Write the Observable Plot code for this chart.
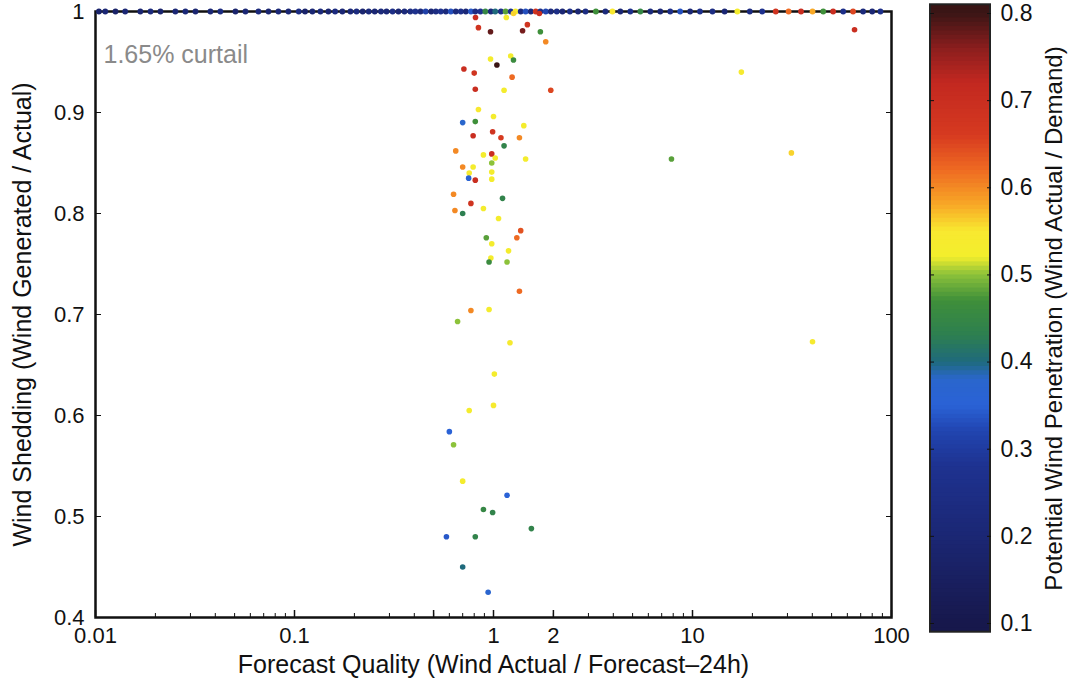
<!DOCTYPE html>
<html>
<head>
<meta charset="utf-8">
<script src="https://cdn.jsdelivr.net/npm/d3@7"></script>
<script src="https://cdn.jsdelivr.net/npm/@observablehq/plot@0.6"></script>
<style>
  html, body { margin: 0; padding: 0; background: #fff; }
  #wrap { position: relative; width: 1068px; height: 689px; }
  #wrap svg { position: absolute; top: 0; overflow: visible; }
</style>
</head>
<body>
<div id="wrap"></div>
<script>
// ---- data ----
const xTicks = [0.01, 0.1, 0.5, 1, 2, 10, 100];
const xMinor = [0.02,0.03,0.04,0.05,0.06,0.07,0.08,0.09,0.2,0.3,0.4,0.5,0.6,0.7,0.8,0.9,2,3,4,5,6,7,8,9,20,30,40,50,60,70,80,90];
const yTicks = [0.4, 0.5, 0.6, 0.7, 0.8, 0.9, 1];
const cbTicks = [0.1, 0.2, 0.3, 0.4, 0.5, 0.6, 0.7, 0.8];
const cbExtent = [0.09, 0.81];

// points sitting on the 1.0 line (no curtailment)
const bandX = [0.0104,0.0112,0.0126,0.0141,0.0168,0.0189,0.0212,0.0252,0.0283,0.0318,0.0378,0.0424,0.0505,0.0567,0.0659,0.0740,0.0830,0.0932,0.105,0.113,0.123,0.135,0.148,0.160,0.174,0.191,0.205,0.220,0.236,0.253,0.272,0.290,0.311,0.333,0.357,0.382,0.405,0.430,0.456,0.486,0.513,0.543,0.576,0.610,0.646,0.685,0.726,0.77,0.81,0.86,0.91,0.97,1.02,1.09,1.15,1.22,1.29,1.37,1.45,1.54,1.63,1.72,1.83,1.94,2.08,2.22,2.42,2.66,2.90,3.27,3.65,3.96,4.34,4.87,5.47,6.14,6.89,7.73,8.67,9.73,10.9,12.6,14.5,16.8,19.4,22.4,26.2,30.4,35.1,40.1,45.4,50.9,57.2,64.1,72.0,80.0,88.0];
const bandP = [.18,.2,.17,.2,.19,.22,.18,.2,.21,.19,.2,.23,.18,.2,.22,.19,.21,.2,.24,.18,.2,.22,.19,.23,.2,.21,.23,.19,.22,.2,.22,.21,.25,.2,.22,.24,.27,.22,.31,.2,.24,.27,.22,.33,.22,.26,.21,.34,.24,.27,.45,.22,.4,.26,.48,.27,.53,.23,.33,.22,.68,.26,.32,.22,.25,.2,.26,.2,.24,.47,.22,.55,.2,.26,.45,.22,.2,.25,.33,.2,.26,.24,.2,.53,.23,.27,.68,.62,.7,.58,.47,.7,.26,.65,.22,.2,.26];

// curtailed points
const ptX = [0.812,0.84,0.966,1.16,1.26,1.48,1.40,1.70,1.72,1.83,1.22,1.26,0.966,1.04,0.71,0.80,1.24,0.81,1.13,1.94,0.84,1.00,0.70,0.81,1.42,0.99,1.09,0.79,1.35,1.13,0.646,0.89,0.98,1.02,1.45,0.98,0.70,0.79,0.755,0.98,0.75,0.81,0.98,0.63,1.11,0.77,0.89,0.64,0.70,1.06,1.37,0.92,1.31,0.98,1.19,0.97,0.95,1.17,1.35,0.77,0.95,0.66,1.21,1.01,1.00,0.755,0.60,0.63,0.70,1.17,0.89,0.99,1.55,0.58,0.81,0.70,0.94,65.2,17.6,7.84,31.4,40.1];
const ptY = [0.994,0.984,0.980,0.994,0.998,0.987,0.981,0.998,0.980,0.970,0.956,0.952,0.953,0.947,0.943,0.939,0.935,0.923,0.922,0.922,0.903,0.896,0.890,0.891,0.887,0.881,0.875,0.877,0.875,0.867,0.862,0.858,0.859,0.855,0.854,0.850,0.846,0.846,0.840,0.841,0.835,0.833,0.834,0.819,0.815,0.810,0.805,0.803,0.800,0.795,0.783,0.776,0.776,0.770,0.763,0.756,0.752,0.752,0.723,0.704,0.705,0.693,0.672,0.641,0.610,0.605,0.584,0.571,0.535,0.521,0.507,0.504,0.488,0.480,0.480,0.450,0.425,0.982,0.940,0.854,0.860,0.673];
const ptP = [0.70,0.68,0.78,0.53,0.56,0.68,0.77,0.70,0.47,0.60,0.53,0.46,0.53,0.80,0.70,0.68,0.62,0.70,0.53,0.65,0.55,0.53,0.38,0.47,0.53,0.68,0.66,0.70,0.60,0.44,0.60,0.53,0.70,0.53,0.53,0.50,0.60,0.53,0.54,0.53,0.36,0.70,0.53,0.60,0.44,0.68,0.53,0.60,0.43,0.53,0.64,0.48,0.62,0.53,0.53,0.53,0.46,0.50,0.62,0.60,0.53,0.50,0.54,0.53,0.54,0.53,0.35,0.50,0.53,0.35,0.45,0.44,0.44,0.34,0.44,0.40,0.37,0.70,0.54,0.48,0.56,0.54];

// colormap (custom jet-like)
const cmapStops  = [0.10,0.20,0.28,0.32,0.35,0.38,0.40,0.43,0.47,0.50,0.52,0.55,0.58,0.62,0.66,0.72,0.76,0.80];
const cmapColors = ["#17184c","#1b2774","#1e3290","#2145b0","#2a62d6","#2a66cc","#1f6a7c","#2d7f50","#3f8f3a","#8cc23a","#f2ee2c","#f8e830","#f8a826","#ee6a22","#d63a20","#c22820","#8a1e1e","#3a1515"];

const yTitle = "Wind Shedding (Wind Generated / Actual)";
const xTitle = "Forecast Quality (Wind Actual / Forecast\u201224h)";
const cbTitle = "Potential Wind Penetration (Wind Actual / Demand)";
const note = "1.65% curtail";

// ---- tables ----
const band = bandX.map((x, i) => ({x, y: 1, p: bandP[i]}));
const pts = ptX.map((x, i) => ({x, y: ptY[i], p: ptP[i]}));
const step = 0.005;
const cells = d3.range(cbExtent[0], cbExtent[1] - 1e-9, step)
  .map(lo => ({lo, hi: Math.min(cbExtent[1], lo + step * 1.6), mid: lo + step / 2}));

const font = "'Liberation Sans', Arial, Helvetica, sans-serif";
const colorScale = {type: "linear", domain: cmapStops, range: cmapColors, clamp: true};

const main = Plot.plot({
  width: 1068, height: 689,
  marginLeft: 95, marginRight: 177, marginTop: 11, marginBottom: 72,
  style: {fontFamily: font, fontSize: "22px", background: "transparent", color: "#111", overflow: "visible"},
  x: {type: "log", domain: [0.01, 100]},
  y: {domain: [0.4, 1]},
  color: colorScale,
  marks: [
    Plot.axisX({ticks: xTicks, tickSize: 0, tickPadding: 10, tickFormat: d => String(d), fontSize: 22, label: null}),
    Plot.axisX({ticks: xMinor, tickSize: -4, tickFormat: () => "", label: null, strokeWidth: 1}),
    Plot.axisX({ticks: xTicks, tickSize: -7, tickFormat: () => "", label: null, strokeWidth: 1.5}),
    Plot.axisY({ticks: yTicks, tickSize: 0, tickPadding: 11, tickFormat: d => d === 1 ? "1" : d.toFixed(1), fontSize: 22, label: null}),
    Plot.axisY({anchor: "left", ticks: yTicks, tickSize: -6, tickFormat: () => "", label: null}),
    Plot.axisY({anchor: "right", ticks: yTicks, tickSize: -6, tickFormat: () => "", label: null}),
    Plot.frame({stroke: "#111", strokeWidth: 2.5}),
    Plot.text([note], {text: d => d, frameAnchor: "top-left", dx: 8, dy: 34, fill: "#8a8a8a", fontSize: 25, textAnchor: "start"}),
    Plot.dot(band, {x: "x", y: "y", fill: "p", r: 2.9}),
    Plot.dot(pts, {x: "x", y: "y", fill: "p", r: 2.8}),
    Plot.text([yTitle], {text: d => d, frameAnchor: "left", textAnchor: "middle", rotate: -90, dx: -73, fontSize: 25, fill: "#111"}),
    Plot.text([xTitle], {text: d => d, frameAnchor: "bottom", textAnchor: "middle", dy: 55, fontSize: 25, fill: "#111"})
  ]
});
main.style.left = "0px";

const cbar = Plot.plot({
  width: 138, height: 689,
  marginLeft: 0, marginRight: 78, marginTop: 13, marginBottom: 66,
  style: {fontFamily: font, fontSize: "22px", background: "transparent", color: "#111", overflow: "visible"},
  y: {domain: [0.1, 0.8]},
  color: colorScale,
  marks: [
    Plot.rect(cells, {y1: "lo", y2: "hi", fill: "mid"}),
    Plot.rect([cbExtent], {y1: d => d[0], y2: d => d[1], fill: "none", stroke: "#222", strokeWidth: 2}),
    Plot.axisY({anchor: "right", ticks: cbTicks, tickSize: 0, tickPadding: 10, tickFormat: d => d.toFixed(1), fontSize: 23, label: null}),
    Plot.axisY({anchor: "right", ticks: cbTicks, tickSize: -4, tickFormat: () => "", label: null}),
    Plot.axisY({anchor: "left", ticks: cbTicks, tickSize: -4, tickFormat: () => "", label: null}),
    Plot.text([cbTitle], {text: d => d, frameAnchor: "right", textAnchor: "middle", rotate: -90, dx: 64, fontSize: 24, fill: "#111"})
  ]
});
cbar.style.left = "930px";

const wrap = document.getElementById("wrap");
wrap.appendChild(main);
wrap.appendChild(cbar);
</script>
</body>
</html>
